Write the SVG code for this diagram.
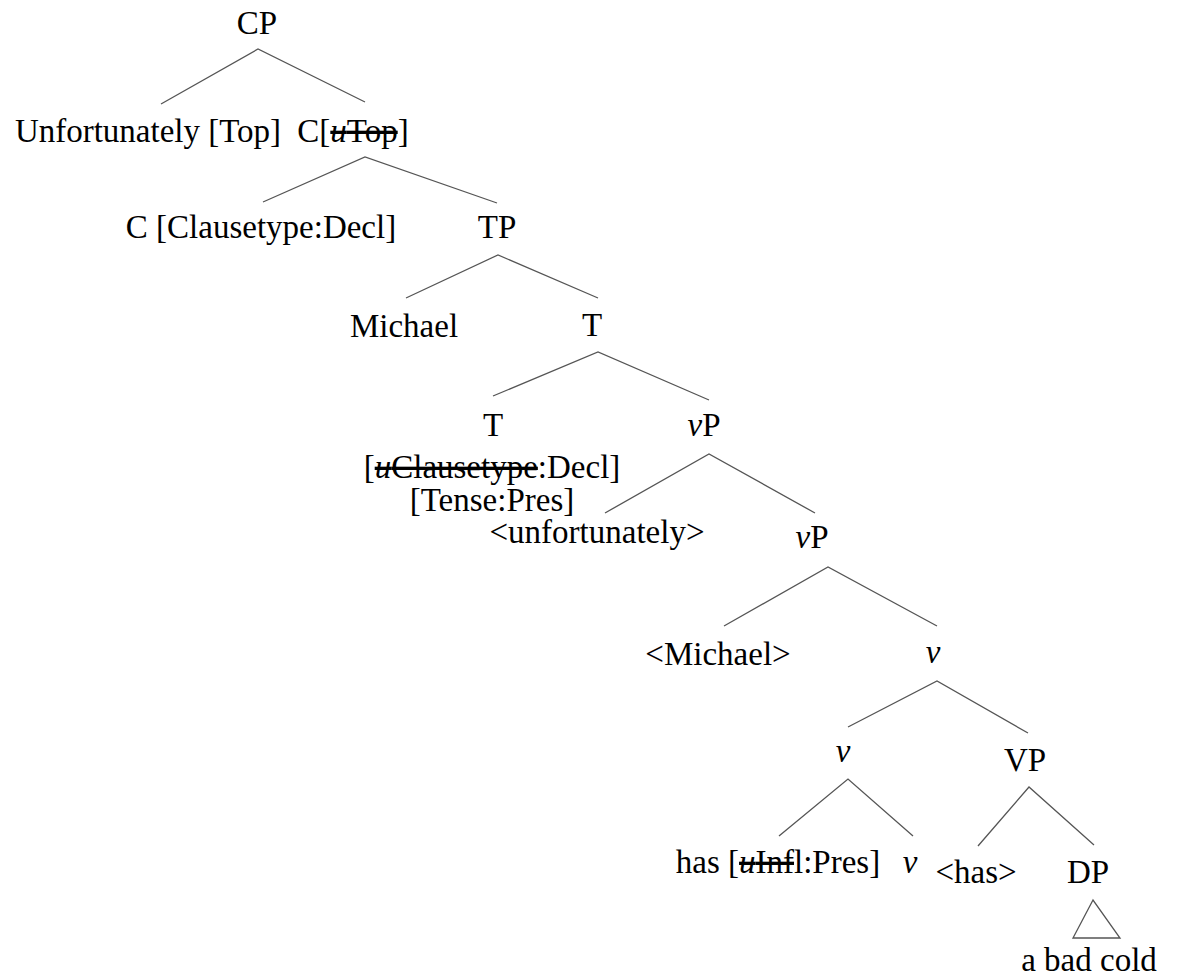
<svg xmlns="http://www.w3.org/2000/svg" width="1183" height="979" viewBox="0 0 1183 979">
  <style>
    text { font-family: 'Liberation Serif', 'DejaVu Serif', serif; font-size: 33px; fill: #000; text-anchor: middle; }
    .it { font-style: italic; }
    .del { text-decoration: line-through; }
    .edge { stroke: #555; stroke-width: 1.3; fill: none; }
  </style>
  <rect width="1183" height="979" fill="#fff"/>

  <!-- branches -->
  <g id="connectors">
    <polyline class="edge" points="161,104 258,49 365,102"/>
    <polyline class="edge" points="263,202 365,157 497,203"/>
    <polyline class="edge" points="406,298 498,255 598,298"/>
    <polyline class="edge" points="493,396 598,352 709,400"/>
    <polyline class="edge" points="605,513 709,454 815,513"/>
    <polyline class="edge" points="724,626 828,567 937,626"/>
    <polyline class="edge" points="848,727 937,681 1028,733"/>
    <polyline class="edge" points="779,836 848,779 913,836"/>
    <polyline class="edge" points="978,846 1029,787 1094,845"/>
    <polygon class="edge" points="1093,900 1073,938 1120,938"/>
  </g>

  <g id="labels" font-family="Liberation Serif, serif">
    <g id="cp"><text x="257" y="34">CP</text></g>
    <g id="topic"><text x="148" y="142">Unfortunately [Top]</text></g>
    <g id="c-bar"><text x="353" y="142">C[<tspan class="del"><tspan class="it">u</tspan>Top</tspan>]</text></g>
    <g id="c-head"><text x="261" y="238">C [Clausetype:Decl]</text></g>
    <g id="tp"><text x="497" y="238">TP</text></g>
    <g id="subject"><text x="404" y="337">Michael</text></g>
    <g id="t-bar"><text x="592" y="336">T</text></g>
    <g id="t-head">
      <text x="493" y="436">T</text>
      <text x="492" y="478">[<tspan class="del"><tspan class="it">u</tspan>Clausetype</tspan>:Decl]</text>
      <text x="492" y="511">[Tense:Pres]</text>
    </g>
    <g id="vp-upper"><text x="704" y="436"><tspan class="it">v</tspan>P</text></g>
    <g id="adverb-copy"><text x="597" y="543">&lt;unfortunately&gt;</text></g>
    <g id="vp-lower"><text x="812" y="548"><tspan class="it">v</tspan>P</text></g>
    <g id="subject-copy"><text x="718" y="665">&lt;Michael&gt;</text></g>
    <g id="v-bar"><text class="it" x="933" y="663">v</text></g>
    <g id="v-head"><text class="it" x="843" y="762">v</text></g>
    <g id="vp"><text x="1025" y="771">VP</text></g>
    <g id="aux"><text x="778" y="873">has [<tspan class="del"><tspan class="it">u</tspan>Inf</tspan>l:Pres]</text></g>
    <g id="v-light"><text class="it" x="910" y="873">v</text></g>
    <g id="aux-copy"><text x="976" y="883">&lt;has&gt;</text></g>
    <g id="dp">
      <text x="1088" y="883">DP</text>
      <text x="1089" y="971">a bad cold</text>
    </g>
  </g>
</svg>
